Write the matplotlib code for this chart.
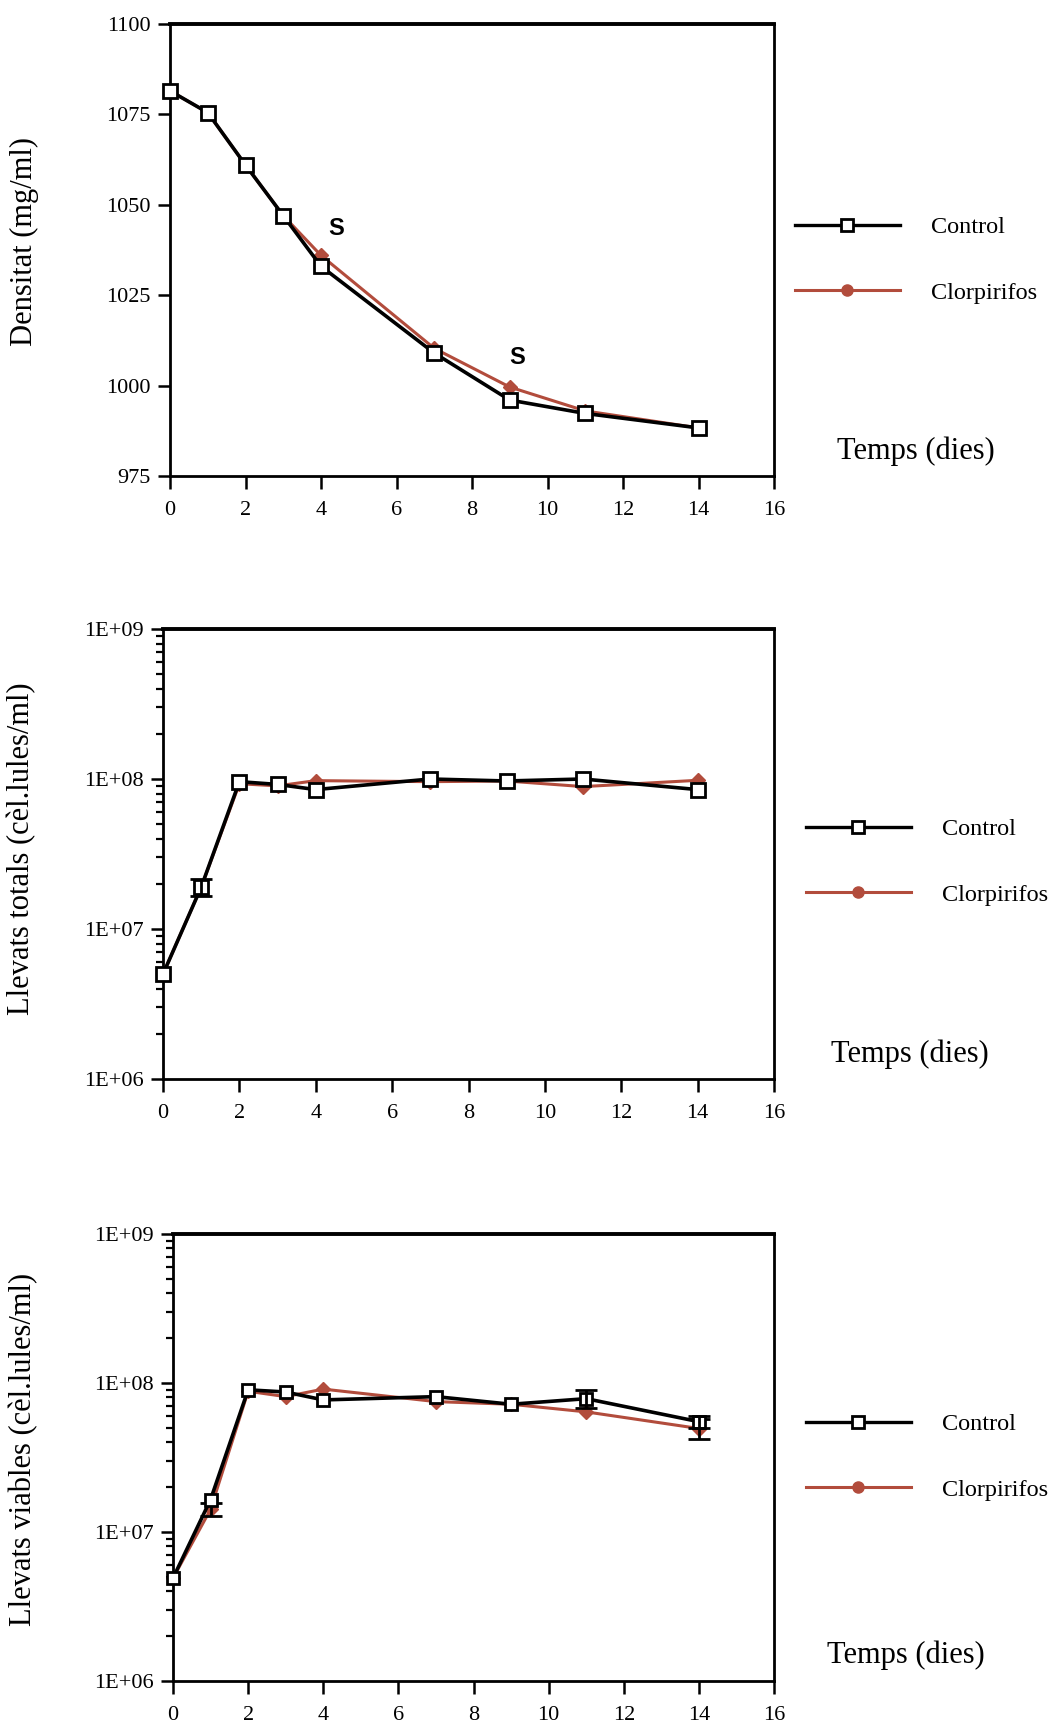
import matplotlib
matplotlib.use("Agg")
import matplotlib.pyplot as plt
from matplotlib.lines import Line2D
from matplotlib.ticker import FixedLocator, LogLocator, NullFormatter

# days sampled
dies = [0, 1, 2, 3, 4, 7, 9, 11, 14]

# density (mg/ml)
dens_control = [1081.5, 1075.5, 1061, 1047, 1033, 1009, 996, 992.3, 988.3]
dens_clor = [1081.5, 1075.5, 1061, 1047, 1036, 1010.3, 999.6, 993, 988.3]

# total yeasts (cells/ml)
tot_control = [5.0e6, 1.9e7, 9.6e7, 9.2e7, 8.5e7, 1.0e8, 9.7e7, 1.0e8, 8.5e7]
tot_control_err = [0, 2.4e6, 0, 0, 0, 0, 0, 0, 0]
tot_clor = [5.0e6, 1.9e7, 9.3e7, 9.0e7, 9.75e7, 9.6e7, 9.7e7, 8.9e7, 9.8e7]
tot_clor_err = [0, 0, 0, 0, 0, 0, 0, 0, 0]

# viable yeasts (cells/ml)
via_control = [4.9e6, 1.65e7, 9.0e7, 8.7e7, 7.7e7, 8.1e7, 7.2e7, 7.85e7, 5.5e7]
via_control_err = [0, 0, 0, 0, 0, 0, 0, 1.1e7, 5e6]
via_clor = [4.9e6, 1.42e7, 8.8e7, 8.1e7, 9.1e7, 7.5e7, 7.2e7, 6.4e7, 4.95e7]
via_clor_err = [0, 1.4e6, 0, 0, 0, 0, 0, 0, 7.5e6]

red = "#b24c3c"
plt.rcParams["font.family"] = "Liberation Serif"

fig = plt.figure(figsize=(10.55, 17.25), dpi=100)
fig.patch.set_facecolor("white")

W, H = 1055, 1725
# axes boxes in pixels: left, right, top, bottom
boxes = [(170, 774, 24, 476), (163, 774, 629, 1079), (173, 774, 1234, 1681)]
legend_pos = [(795, 260), (806, 862), (806, 1457)]
temps_pos = [(916, 451), (910, 1054), (906, 1655)]
ylabel_pos = [(24, 242), (22, 849), (24, 1449)]
ylabels = ["Densitat (mg/ml)", "Llevats totals (cèl.lules/ml)",
           "Llevats viables (cèl.lules/ml)"]


def make_axes(box):
    l, r, t, b = box
    return fig.add_axes([l / W, 1 - b / H, (r - l) / W, (b - t) / H])


def style(ax):
    for s in ax.spines.values():
        s.set_linewidth(2)
    ax.spines["top"].set_linewidth(2.8)
    ax.set_xlim(0, 16)
    ax.set_xticks(range(0, 17, 2))
    ax.tick_params(axis="both", which="major", direction="out", length=9,
                   width=1.8, labelsize=16, top=False, right=False)
    ax.tick_params(axis="x", pad=9)
    ax.tick_params(axis="y", pad=5)
    ax.tick_params(axis="y", which="minor", direction="out", length=5,
                   width=1.6, right=False)


def err_bars(ax, x, y, err, z):
    pts = [(a, b, e) for a, b, e in zip(x, y, err) if e > 0]
    if not pts:
        return
    xs, ys, es = zip(*pts)
    ax.errorbar(xs, ys, yerr=es, fmt="none", ecolor="black",
                elinewidth=2, capsize=8, capthick=2, zorder=z)


axes = [make_axes(b) for b in boxes]

# panel 1: density
ax = axes[0]
ax.plot(dies, dens_clor, color=red, lw=2.2, marker="D", ms=7, mfc=red,
        mec=red, zorder=2, clip_on=False)
ax.plot(dies, dens_control, color="black", lw=2.6, marker="s", ms=10,
        mfc="white", mec="black", mew=2, zorder=3, clip_on=False)
ax.set_ylim(975, 1100)
ax.set_yticks(range(975, 1101, 25))
ax.text(4.4, 1043.4, "S", fontsize=17, fontweight="bold",
        family="Liberation Sans", ha="center", va="center")
ax.text(9.2, 1007.8, "S", fontsize=17, fontweight="bold",
        family="Liberation Sans", ha="center", va="center")

# panels 2 and 3: yeast counts on log scale
series = [(tot_control, tot_control_err, tot_clor, tot_clor_err, 10),
          (via_control, via_control_err, via_clor, via_clor_err, 8)]
for ax, (ctl, ctl_err, clo, clo_err, ms) in zip(axes[1:], series):
    ax.set_yscale("log")
    ax.plot(dies, clo, color=red, lw=2.2, marker="D", ms=7, mfc=red,
            mec=red, zorder=2, clip_on=False)
    err_bars(ax, dies, clo, clo_err, 2)
    ax.plot(dies, ctl, color="black", lw=2.6, marker="s", ms=ms,
            mfc="white", mec="black", mew=2, zorder=3, clip_on=False)
    err_bars(ax, dies, ctl, ctl_err, 3)
    ax.set_ylim(1e6, 1e9)
    ax.yaxis.set_major_locator(FixedLocator([1e6, 1e7, 1e8, 1e9]))
    ax.set_yticklabels(["1E+06", "1E+07", "1E+08", "1E+09"])
    ax.yaxis.set_minor_locator(LogLocator(base=10, subs=range(2, 10)))
    ax.yaxis.set_minor_formatter(NullFormatter())

# legend handles (smaller markers than in the plot)
handles = [
    Line2D([], [], color="black", lw=2.4, marker="s", ms=8, mfc="white",
           mec="black", mew=2),
    Line2D([], [], color=red, lw=2.2, marker="o", ms=8, mfc=red, mec=red),
]

for ax, lab, lp, tp, yp in zip(axes, ylabels, legend_pos, temps_pos,
                               ylabel_pos):
    style(ax)
    fig.text(yp[0] / W, 1 - yp[1] / H, lab, fontsize=22,
             rotation=90, ha="center", va="center")
    fig.legend(handles, ["Control", "Clorpirifos"],
               loc="center left", bbox_to_anchor=(lp[0] / W, 1 - lp[1] / H),
               frameon=False, fontsize=17.5, handlelength=4.3,
               handletextpad=1.3, labelspacing=1.8, borderpad=0,
               borderaxespad=0)
    fig.text(tp[0] / W, 1 - tp[1] / H, "Temps (dies)", fontsize=22,
             ha="center", va="center")

fig.savefig("out.png", dpi=100)
